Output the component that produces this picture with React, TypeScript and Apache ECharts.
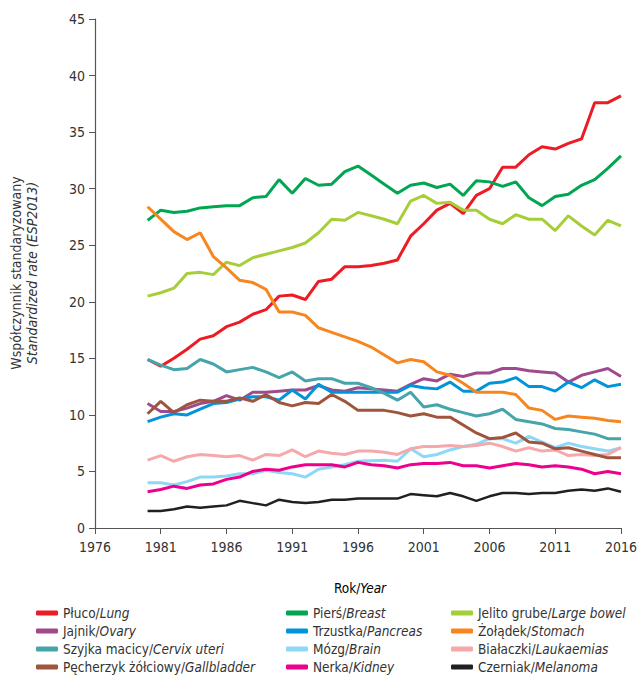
import React, { useEffect, useRef } from "react";
import * as echarts from "echarts";

const years = Array.from({ length: 37 }, (_, i) => String(1980 + i));
const axisYears = Array.from({ length: 41 }, (_, i) => String(1976 + i));

const lung = [14.9, 14.3, 15.0, 15.8, 16.7, 17.0, 17.8, 18.2, 18.9, 19.3, 20.5, 20.6, 20.2, 21.8, 22.0, 23.1, 23.1, 23.2, 23.4, 23.7, 25.8, 26.9, 28.1, 28.7, 27.8, 29.4, 30.0, 31.9, 31.9, 33.0, 33.7, 33.5, 34.0, 34.4, 37.6, 37.6, 38.2];
const breast = [27.2, 28.1, 27.9, 28.0, 28.3, 28.4, 28.5, 28.5, 29.2, 29.3, 30.8, 29.6, 30.9, 30.3, 30.4, 31.5, 32.0, 31.2, 30.4, 29.6, 30.3, 30.5, 30.1, 30.4, 29.4, 30.7, 30.6, 30.2, 30.6, 29.2, 28.5, 29.3, 29.5, 30.3, 30.8, 31.8, 32.9];
const bowel = [20.5, 20.8, 21.2, 22.5, 22.6, 22.4, 23.5, 23.2, 23.9, 24.2, 24.5, 24.8, 25.2, 26.1, 27.3, 27.2, 27.9, 27.6, 27.3, 26.9, 28.9, 29.4, 28.7, 28.8, 28.1, 28.1, 27.3, 26.9, 27.7, 27.3, 27.3, 26.3, 27.6, 26.7, 25.9, 27.2, 26.7];
const ovary = [11.0, 10.3, 10.3, 10.6, 11.0, 11.2, 11.7, 11.3, 12.0, 12.0, 12.1, 12.2, 12.2, 12.6, 12.2, 12.1, 12.4, 12.3, 12.2, 12.1, 12.7, 13.2, 13.0, 13.6, 13.4, 13.7, 13.7, 14.1, 14.1, 13.9, 13.8, 13.7, 12.9, 13.5, 13.8, 14.1, 13.4];
const pancreas = [9.4, 9.8, 10.1, 10.0, 10.5, 11.0, 11.1, 11.4, 11.6, 11.6, 11.3, 12.2, 11.4, 12.7, 12.0, 12.0, 12.0, 12.0, 12.0, 12.0, 12.6, 12.4, 12.3, 12.9, 12.1, 12.1, 12.8, 12.9, 13.3, 12.5, 12.5, 12.1, 12.9, 12.4, 13.1, 12.5, 12.7];
const stomach = [28.4, 27.3, 26.2, 25.5, 26.1, 24.0, 23.0, 21.9, 21.7, 21.1, 19.1, 19.1, 18.8, 17.7, 17.3, 16.9, 16.5, 16.0, 15.3, 14.6, 14.9, 14.7, 13.8, 13.5, 12.8, 12.0, 12.0, 12.0, 11.8, 10.6, 10.4, 9.6, 9.9, 9.8, 9.7, 9.5, 9.4];
const cervix = [14.9, 14.4, 14.0, 14.1, 14.9, 14.5, 13.8, 14.0, 14.2, 13.8, 13.3, 13.8, 13.0, 13.2, 13.2, 12.8, 12.8, 12.4, 11.9, 11.3, 12.0, 10.7, 10.9, 10.5, 10.2, 9.9, 10.1, 10.5, 9.6, 9.4, 9.2, 8.8, 8.7, 8.5, 8.3, 7.9, 7.9];
const brain = [4.0, 4.0, 3.8, 4.1, 4.5, 4.5, 4.6, 4.8, 4.8, 5.1, 4.9, 4.8, 4.5, 5.2, 5.4, 5.6, 5.9, 5.95, 6.0, 5.9, 7.0, 6.3, 6.5, 6.9, 7.2, 7.4, 7.9, 7.9, 7.5, 8.1, 7.6, 7.1, 7.5, 7.2, 7.0, 6.8, 7.1];
const leukaemias = [6.0, 6.4, 5.9, 6.3, 6.5, 6.4, 6.3, 6.4, 6.0, 6.5, 6.4, 6.9, 6.3, 6.8, 6.6, 6.5, 6.8, 6.8, 6.7, 6.5, 7.0, 7.2, 7.2, 7.3, 7.2, 7.3, 7.5, 7.2, 6.8, 7.1, 6.8, 6.9, 6.4, 6.5, 6.4, 6.5, 7.1];
const gallbladder = [10.1, 11.2, 10.2, 10.9, 11.3, 11.2, 11.2, 11.5, 11.2, 11.8, 11.1, 10.8, 11.1, 11.0, 11.8, 11.2, 10.4, 10.4, 10.4, 10.2, 9.9, 10.1, 9.8, 9.8, 9.1, 8.4, 7.9, 8.0, 8.4, 7.6, 7.5, 7.0, 7.1, 6.8, 6.5, 6.2, 6.2];
const kidney = [3.2, 3.4, 3.7, 3.5, 3.8, 3.9, 4.3, 4.5, 5.0, 5.2, 5.1, 5.4, 5.6, 5.6, 5.6, 5.4, 5.8, 5.6, 5.5, 5.3, 5.6, 5.7, 5.7, 5.8, 5.5, 5.5, 5.3, 5.5, 5.7, 5.6, 5.4, 5.5, 5.4, 5.2, 4.8, 5.0, 4.8];
const melanoma = [1.5, 1.5, 1.65, 1.9, 1.8, 1.9, 2.0, 2.4, 2.2, 2.0, 2.5, 2.3, 2.2, 2.3, 2.5, 2.5, 2.6, 2.6, 2.6, 2.6, 3.0, 2.9, 2.8, 3.1, 2.8, 2.4, 2.8, 3.1, 3.1, 3.0, 3.1, 3.1, 3.3, 3.4, 3.3, 3.5, 3.2];

const seriesDefs = [
  { name: "Płuco/Lung", data: lung, color: "#ED1C24" },
  { name: "Pierś/Breast", data: breast, color: "#00A651" },
  { name: "Jelito grube/Large bowel", data: bowel, color: "#A6CE39" },
  { name: "Jajnik/Ovary", data: ovary, color: "#9E4A8C" },
  { name: "Trzustka/Pancreas", data: pancreas, color: "#0095DA" },
  { name: "Żołądek/Stomach", data: stomach, color: "#F7861F" },
  { name: "Szyjka macicy/Cervix uteri", data: cervix, color: "#45A5AA" },
  { name: "Mózg/Brain", data: brain, color: "#8DD7F7" },
  { name: "Białaczki/Laukaemias", data: leukaemias, color: "#F6A8AB" },
  { name: "Pęcherzyk żółciowy/Gallbladder", data: gallbladder, color: "#9E543D" },
  { name: "Nerka/Kidney", data: kidney, color: "#EC008C" },
  { name: "Czerniak/Melanoma", data: melanoma, color: "#231F20" },
];

const FONT = '"Liberation Sans Narrow", "DejaVu Sans Condensed", "Roboto", sans-serif';
const TXT = "#333333";

export default function App() {
  const ref = useRef<HTMLDivElement>(null);
  useEffect(() => {
    document.body.style.margin = "0";
    if (!ref.current) return;
    const chart = echarts.init(ref.current, null, { renderer: "svg" });
    const legendRich = {
      n: { fontFamily: FONT, fontSize: 13.5, color: TXT, lineHeight: 14 },
      i: { fontFamily: FONT, fontSize: 13.5, color: TXT, fontStyle: "italic", lineHeight: 14 },
    };
    const makeLegend = (idx: number, left: number) => ({
      orient: "vertical",
      left,
      top: 606,
      itemWidth: 22,
      itemHeight: 5,
      itemGap: 4,
      icon: "roundRect",
      padding: 0,
      data: seriesDefs.filter((_, i) => i % 3 === idx).map((s) => s.name),
      formatter: (name: string) => {
        const k = name.indexOf("/");
        return `{n|${name.slice(0, k + 1)}}{i|${name.slice(k + 1)}}`;
      },
      textStyle: { fontFamily: FONT, fontSize: 13.5, color: TXT, lineHeight: 14, rich: legendRich },
    });
    chart.setOption({
      animation: false,
      grid: { left: 95, right: 15, top: 19, bottom: 151, containLabel: false },
      xAxis: {
        type: "category",
        data: axisYears,
        boundaryGap: false,
        axisLine: { lineStyle: { color: "#555555", width: 1.2 } },
        axisTick: { interval: 4, length: 6, lineStyle: { color: "#555555" } },
        axisLabel: { interval: 4, fontFamily: FONT, fontSize: 14, color: TXT, margin: 12 },
        splitLine: { show: false },
      },
      yAxis: {
        type: "value",
        min: 0,
        max: 45,
        interval: 5,
        axisLine: { show: true, lineStyle: { color: "#555555", width: 1.2 } },
        axisTick: { show: true, length: 6, lineStyle: { color: "#555555" } },
        axisLabel: { fontFamily: FONT, fontSize: 14, color: TXT, margin: 10 },
        splitLine: { show: false },
      },
      legend: [makeLegend(0, 36), makeLegend(1, 286), makeLegend(2, 451)],
      graphic: [
        {
          type: "text",
          x: 16,
          y: 273,
          rotation: Math.PI / 2,
          style: {
            text: "Współczynnik standaryzowany",
            fontFamily: FONT,
            fontSize: 14,
            fill: TXT,
            align: "center",
            verticalAlign: "middle",
          },
        },
        {
          type: "text",
          x: 32,
          y: 273,
          rotation: Math.PI / 2,
          style: {
            text: "Standardized rate (ESP2013)",
            fontFamily: FONT,
            fontSize: 14,
            fontStyle: "italic",
            fill: TXT,
            align: "center",
            verticalAlign: "middle",
          },
        },
        {
          type: "text",
          x: 360,
          y: 588,
          style: {
            text: "{n|Rok/}{i|Year}",
            align: "center",
            verticalAlign: "middle",
            rich: legendRich,
          },
        },
      ],
      series: seriesDefs.map((s) => ({
        name: s.name,
        type: "line",
        data: s.data.map((v, i) => [years[i], v]),
        symbol: "none",
        color: s.color,
        lineStyle: { color: s.color, width: s.name.startsWith("Czerniak") ? 2.5 : 3 },
        itemStyle: { color: s.color },
      })),
    });
    return () => chart.dispose();
  }, []);
  return <div ref={ref} style={{ width: 640, height: 679 }} />;
}
